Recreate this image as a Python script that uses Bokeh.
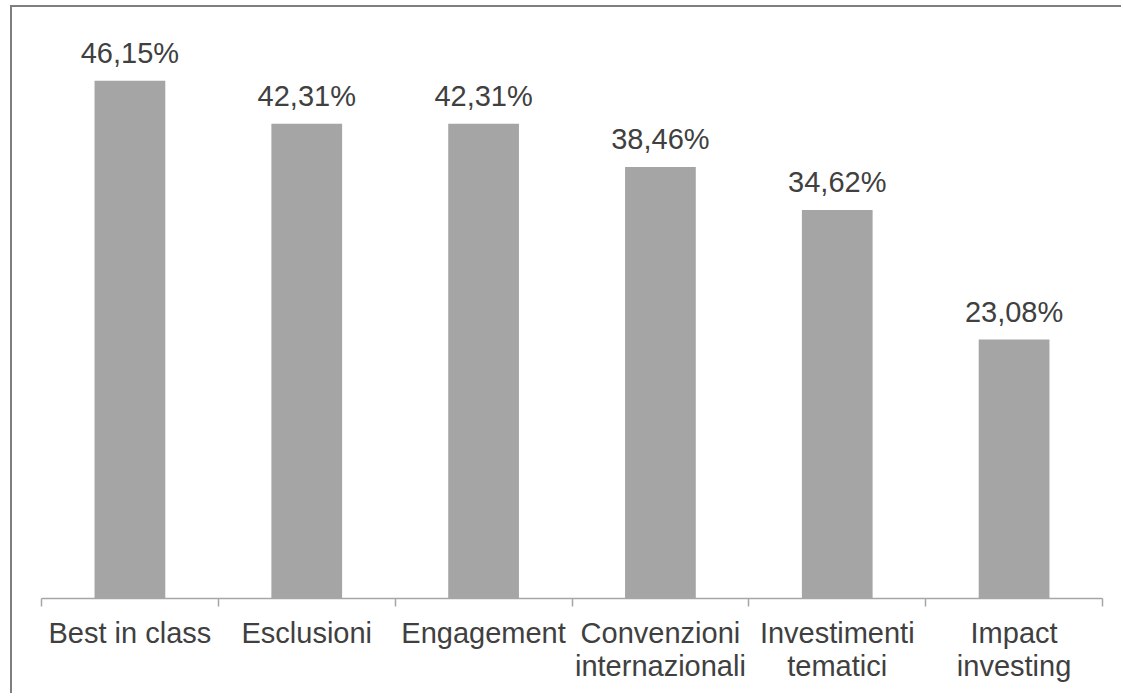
from bokeh.plotting import figure
from bokeh.models import Range1d, FixedTicker, CustomJSTickFormatter, ColumnDataSource
from bokeh.core.properties import value
from bokeh.embed import file_html
from bokeh.resources import INLINE

categories = ["Best in class", "Esclusioni", "Engagement",
              "Convenzioni\ninternazionali", "Investimenti\ntematici", "Impact\ninvesting"]
values = [46.15, 42.31, 42.31, 38.46, 34.62, 23.08]

FONT = "Liberation Sans"
TXT = "#404040"

n = len(categories)
xs = [i + 0.5 for i in range(n)]
labels = [f"{v:.2f}%".replace(".", ",") for v in values]
src = ColumnDataSource(dict(x=xs, top=values, label=labels))

p = figure(width=1111, height=688, output_backend="svg", toolbar_location=None,
           x_range=Range1d(0, n), y_range=Range1d(0, 50), y_axis_location=None,
           min_border_left=29, min_border_right=21, min_border_top=30, min_border_bottom=97)
p.margin = (5, 0, 0, 10)
p.outline_line_color = None
p.grid.grid_line_color = None
p.background_fill_color = "white"
p.border_fill_color = "white"
p.styles = {"border-left": "2px solid #7F7F7F", "border-top": "2px solid #7F7F7F"}

p.vbar(x="x", top="top", width=0.4, bottom=0, source=src,
       fill_color="#A5A5A5", line_color=None)
p.text(x="x", y="top", text="label", source=src, text_align="center",
       text_baseline="bottom", y_offset=-12, text_color=TXT,
       text_font=value(FONT), text_font_size="29px")

ax = p.xaxis[0]
ax.ticker = FixedTicker(ticks=xs, minor_ticks=list(range(n + 1)))
ax.formatter = CustomJSTickFormatter(args=dict(labels=categories),
                                     code="return labels[Math.floor(tick)];")
ax.axis_line_color = "#A6A6A6"
ax.axis_line_width = 1.5
ax.major_tick_line_color = None
ax.major_tick_out = 8
ax.major_tick_in = 0
ax.minor_tick_line_color = "#A6A6A6"
ax.minor_tick_line_width = 1.5
ax.minor_tick_out = 8
ax.minor_tick_in = 0
ax.major_label_standoff = 10
ax.major_label_text_font = FONT
ax.major_label_text_font_size = "29px"
ax.major_label_text_color = TXT
ax.major_label_text_line_height = 1.05

open("out.html", "w").write(file_html(p, INLINE))
